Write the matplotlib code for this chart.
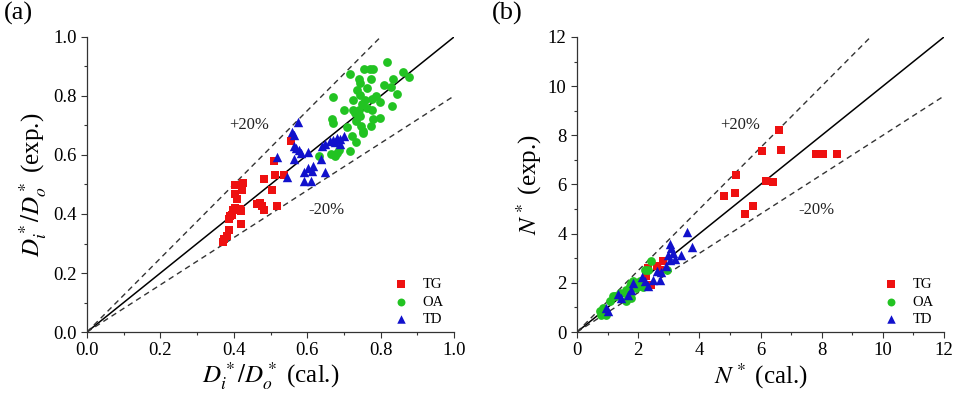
import numpy as np
import matplotlib
matplotlib.use("Agg")
import matplotlib.pyplot as plt
from matplotlib.ticker import MultipleLocator

plt.rcParams['font.family'] = ['Liberation Serif', 'DejaVu Serif']
plt.rcParams['mathtext.fontset'] = 'stix'

# (a) Di*/Do*  -- calculated vs experimental
tg_a_cal = [0.370, 0.374, 0.381, 0.388, 0.386, 0.390, 0.395, 0.399, 0.403, 0.410,
            0.416, 0.419, 0.404, 0.404, 0.410, 0.423, 0.425, 0.419, 0.463, 0.472,
            0.476, 0.481, 0.481, 0.504, 0.517, 0.513, 0.510, 0.537, 0.555]
tg_a_exp = [0.305, 0.315, 0.327, 0.347, 0.383, 0.392, 0.398, 0.412, 0.420, 0.415,
            0.417, 0.411, 0.499, 0.468, 0.452, 0.480, 0.505, 0.366, 0.435, 0.437,
            0.426, 0.412, 0.519, 0.480, 0.428, 0.533, 0.578, 0.533, 0.646]

oa_a_cal = [0.631, 0.664, 0.676, 0.681, 0.686, 0.670, 0.667, 0.671, 0.708, 0.717,
            0.717, 0.721, 0.724, 0.726, 0.731, 0.733, 0.733, 0.737, 0.740, 0.744,
            0.744, 0.744, 0.746, 0.749, 0.751, 0.753, 0.755, 0.758, 0.762, 0.762,
            0.770, 0.773, 0.776, 0.773, 0.779, 0.776, 0.780, 0.788, 0.797, 0.799,
            0.808, 0.818, 0.828, 0.830, 0.835, 0.846, 0.862, 0.878, 0.699, 0.742]
oa_a_exp = [0.598, 0.605, 0.596, 0.607, 0.616, 0.797, 0.722, 0.708, 0.694, 0.612,
            0.876, 0.666, 0.751, 0.788, 0.742, 0.714, 0.643, 0.821, 0.858, 0.844,
            0.805, 0.731, 0.697, 0.774, 0.680, 0.675, 0.892, 0.788, 0.759, 0.827,
            0.892, 0.858, 0.790, 0.699, 0.892, 0.754, 0.722, 0.799, 0.725, 0.779,
            0.838, 0.914, 0.831, 0.765, 0.858, 0.808, 0.880, 0.863, 0.754, 0.751]

td_a_cal = [0.519, 0.544, 0.559, 0.563, 0.575, 0.563, 0.570, 0.579, 0.565, 0.583,
            0.590, 0.592, 0.603, 0.601, 0.612, 0.617, 0.610, 0.637, 0.649, 0.640,
            0.649, 0.662, 0.671, 0.681, 0.690, 0.699, 0.688, 0.676]
td_a_exp = [0.593, 0.525, 0.678, 0.667, 0.711, 0.629, 0.624, 0.616, 0.588, 0.607,
            0.541, 0.511, 0.609, 0.556, 0.545, 0.562, 0.511, 0.586, 0.541, 0.629,
            0.638, 0.646, 0.652, 0.658, 0.654, 0.663, 0.638, 0.644]

# (b) N*  -- calculated vs experimental
tg_b_cal = [4.80, 5.17, 5.19, 5.49, 5.74, 6.04, 6.17, 6.41, 6.61, 6.67,
            7.83, 7.95, 8.05, 8.51, 2.81, 2.60, 2.27, 2.43, 2.32, 2.70]
tg_b_exp = [5.52, 5.65, 6.37, 4.81, 5.11, 7.35, 6.16, 6.10, 8.20, 7.39,
            7.25, 7.25, 7.25, 7.25, 2.87, 2.67, 2.26, 1.93, 2.60, 2.54]

oa_b_cal = [2.43, 2.21, 2.32, 2.10, 2.05, 1.83, 1.78, 1.72, 1.61, 1.56,
            1.59, 1.78, 1.40, 1.18, 1.07, 0.85, 0.74, 0.80, 0.96, 2.95,
            1.94, 2.16, 0.90, 1.25]
oa_b_exp = [2.87, 2.54, 2.54, 1.86, 2.06, 2.06, 1.99, 1.86, 1.72, 1.59,
            1.25, 1.38, 1.59, 1.48, 1.25, 0.98, 0.84, 0.71, 0.71, 2.54,
            1.79, 1.83, 0.80, 1.45]

td_b_cal = [3.58, 3.77, 3.03, 3.08, 3.14, 3.41, 3.20, 2.98, 3.03, 2.92,
            2.76, 2.60, 2.71, 2.49, 2.32, 2.13, 2.21, 1.83, 1.78, 1.67,
            1.45, 1.34, 0.94, 1.01]
td_b_exp = [4.05, 3.44, 3.58, 3.42, 3.21, 3.15, 2.97, 3.15, 2.94, 2.67,
            2.43, 2.47, 2.13, 2.13, 1.86, 2.24, 2.06, 1.99, 1.72, 1.52,
            1.38, 1.56, 0.98, 0.84]

panels = [
    dict(ax_left=0.0911, lim=1.0, major=0.2, minor=0.1, fmt='{:.1f}',
         tg=(tg_a_cal, tg_a_exp), oa=(oa_a_cal, oa_a_exp), td=(td_a_cal, td_a_exp),
         xlabel=r'$D_i^*/D_o^*$ (cal.)', ylabel=r'$D_i^*/D_o^*$ (exp.)',
         plus=(0.443, 0.703), minus=(0.653, 0.412), tag='(a)', tag_x=0.004),
    dict(ax_left=0.6042, lim=12.0, major=2, minor=1, fmt='{:.0f}',
         tg=(tg_b_cal, tg_b_exp), oa=(oa_b_cal, oa_b_exp), td=(td_b_cal, td_b_exp),
         xlabel=r'$N^*$ (cal.)', ylabel=r'$N^*$ (exp.)',
         plus=(5.32, 8.43), minus=(7.83, 4.95), tag='(b)', tag_x=0.515),
]

fig = plt.figure(figsize=(9.55, 3.96), dpi=100)

for p in panels:
    ax = fig.add_axes([p['ax_left'], 0.1616, 0.3843, 0.745])
    L = p['lim']
    ref = np.array([0, L])
    ax.plot(ref, ref, color='black', lw=1.1, zorder=1)
    ax.plot([0, L * 0.8], [0, L], color='#333333', lw=1.0, ls=(0, (4, 3)), zorder=1)
    ax.plot([0, L], [0, L * 0.8], color='#333333', lw=1.0, ls=(0, (4, 3)), zorder=1)

    ax.scatter(*p['tg'], marker='s', s=34, color='#ee1111', lw=0, label='TG', zorder=3)
    ax.scatter(*p['oa'], marker='o', s=40, color='#22c322', lw=0, label='OA', zorder=3)
    ax.scatter(*p['td'], marker='^', s=46, color='#1111cc', lw=0, label='TD', zorder=3)

    ax.text(*p['plus'], '+20%', fontsize=12, ha='center', va='center', color='#222222')
    ax.text(*p['minus'], '-20%', fontsize=12, ha='center', va='center', color='#222222')

    ax.set_xlim(0, L)
    ax.set_ylim(0, L)
    ticks = np.arange(0, L + p['major'] / 2, p['major'])
    ax.set_xticks(ticks)
    ax.set_yticks(ticks)
    ax.set_xticklabels([p['fmt'].format(t) for t in ticks])
    ax.set_yticklabels([p['fmt'].format(t) for t in ticks])
    ax.xaxis.set_minor_locator(MultipleLocator(p['minor']))
    ax.yaxis.set_minor_locator(MultipleLocator(p['minor']))
    ax.tick_params(which='major', direction='out', length=4, width=0.8,
                   labelsize=13.5, colors='#333333', labelcolor='black')
    ax.tick_params(which='minor', direction='out', length=2.5, width=0.8, colors='#333333')
    for side in ['top', 'right']:
        ax.spines[side].set_visible(False)
    for side in ['left', 'bottom']:
        ax.spines[side].set_color('#333333')
        ax.spines[side].set_linewidth(0.9)

    ax.set_xlabel(p['xlabel'], fontsize=18, labelpad=1)
    ax.set_ylabel(p['ylabel'], fontsize=18, labelpad=3)

    ax.legend(loc='lower right', bbox_to_anchor=(1.0, -0.015), frameon=False,
              fontsize=10.5, handletextpad=1.0, borderaxespad=0.3,
              labelspacing=0.3, handlelength=1.0, markerscale=0.9)

    fig.text(p['tag_x'], 0.995, p['tag'], fontsize=19, ha='left', va='top')

fig.savefig('out.png', dpi=100)
